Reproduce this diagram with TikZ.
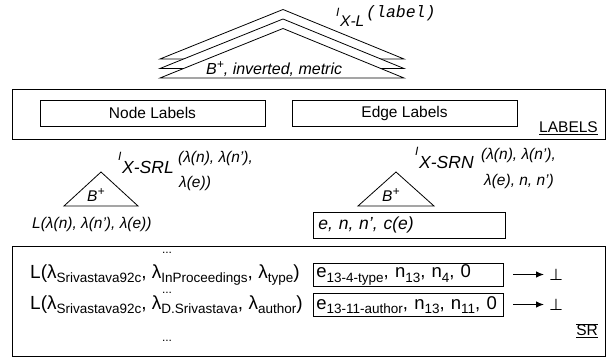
\documentclass[tikz,border=0pt]{standalone}
\usepackage{fontspec}
\setmainfont{Liberation Sans}
\setmonofont{Liberation Mono}
\newfontfamily\dejavu{DejaVu Sans}
\usetikzlibrary{arrows.meta}
\newcommand{\fsz}[1]{\fontsize{#1}{#1}\selectfont}
\newcommand{\sby}[1]{\raisebox{-4.5pt}{\fsz{13.5}#1}}
\newcommand{\spx}[1]{\raisebox{6.5pt}{\fsz{12}#1}}
\begin{document}
\begin{tikzpicture}[x=1pt,y=-1pt,
  txt/.style={inner sep=0pt, anchor=base west, font=\fsz{15.5}},
  itx/.style={txt, font=\fsz{15.5}\itshape},
  bigi/.style={txt, font=\fsz{17.5}\itshape},
  smi/.style={txt, font=\fsz{12}\itshape},
  boxn/.style={draw, line width=0.8pt, inner sep=0pt},
  rowbox/.style={boxn, anchor=north west, minimum width=190pt, minimum height=23pt, text width=184pt, inner xsep=3pt, align=left, font=\fsz{18.5}},
  roof/.style={draw, fill=white, line width=0.8pt, line join=miter},
  tri/.style={draw, line width=0.8pt, line join=miter},
  arr/.style={line width=1pt, -{Latex[length=8pt,width=6.5pt]}},
  dots/.style={inner sep=0pt, font=\fsz{12}},
  botn/.style={txt, font=\fsz{16}\dejavu}
]
\useasboundingbox (0,0) rectangle (611,358);

% top stacked roofs
\draw[roof] (160,59) -- (283,9.5) -- (404,59) -- cycle;
\draw[roof] (160,68.5) -- (283,19) -- (404,68.5) -- cycle;
\draw[roof] (160,78) -- (283,28.5) -- (404,78) -- cycle;
\node[txt, font=\fsz{16}\itshape] (binv) at (206,75) {B\spx{+}, inverted, metric};
\node[smi] (il) at (336,17) {I};
\node[itx] (xl) at (340,27) {X-L};
\node[txt, font=\fsz{16.5}\ttfamily\itshape] (lab) at (366,18) {(label)};

% LABELS box
\node[boxn, anchor=north west, minimum width=593pt, minimum height=50pt] (labels) at (12,89) {};
\node[boxn, minimum width=225pt, minimum height=26pt, font=\fsz{15.5}] (nl) at (152.5,113) {Node Labels};
\node[boxn, minimum width=225pt, minimum height=26pt, font=\fsz{15.5}] (el) at (404.5,113) {Edge Labels};
\node[txt, anchor=base east] (lbl) at (598,133) {\underline{LABELS}};

% left index
\draw[tri] (64,206) -- (101,172) -- (138,206) -- cycle;
\node[itx] (bl) at (87,202) {B\spx{+}};
\node[smi] (isrl) at (118,161) {I};
\node[bigi] (xsrl) at (122,174) {X-SRL};
\node[itx] (asrl) at (178,163) {(λ(n), λ(n'),};
\node[itx] (bsrl) at (179,188) {λ(e))};
\node[itx] (lrow) at (32,229) {L(λ(n), λ(n'), λ(e))};

% right index
\draw[tri] (358,206) -- (396,172) -- (434,206) -- cycle;
\node[itx] (br) at (382,202) {B\spx{+}};
\node[smi] (isrn) at (415,156) {I};
\node[bigi] (xsrn) at (419,169) {X-SRN};
\node[itx] (asrn) at (481,160) {(λ(n), λ(n'),};
\node[itx] (bsrn) at (484,186) {λ(e), n, n')};
\node[boxn, anchor=north west, minimum width=192pt, minimum height=26pt, text width=182pt, inner xsep=5pt, align=left, font=\fsz{17.5}\itshape] (enc) at (313,212) {e, n, n', c(e)};

% SR box
\node[boxn, anchor=north west, minimum width=593pt, minimum height=110pt] (sr) at (12,246) {};
\node[dots] (d1) at (167,253) {...};
\node[txt, font=\fsz{19}] (r1) at (30,278.5) {L(λ\sby{Srivastava92c}, λ\sby{InProceedings}, λ\sby{type})};
\node[rowbox] (b1) at (313,263) {\mbox{e\sby{13-4-type}, n\sby{13}, n\sby{4}, 0}};
\node[botn] (bot1) at (549,281) {⊥};
\coordinate (a1) at (513,274.5);
\draw[arr] (a1) -- ([xshift=-5pt]bot1.west |- a1);
\node[dots] (d2) at (167,293) {...};
\node[txt, font=\fsz{19}] (r2) at (30,309.5) {L(λ\sby{Srivastava92c}, λ\sby{D.Srivastava}, λ\sby{author})};
\node[rowbox] (b2) at (313,293) {\mbox{e\sby{13-11-author}, n\sby{13}, n\sby{11}, 0}};
\node[botn] (bot2) at (549,311) {⊥};
\coordinate (a2) at (513,304.5);
\draw[arr] (a2) -- ([xshift=-5pt]bot2.west |- a2);
\node[dots] (d3) at (167,341) {...};
\node[txt, anchor=base east] (srl) at (598,336) {\underline{$\overline{\mbox{SR}}$}};
\end{tikzpicture}
\end{document}
